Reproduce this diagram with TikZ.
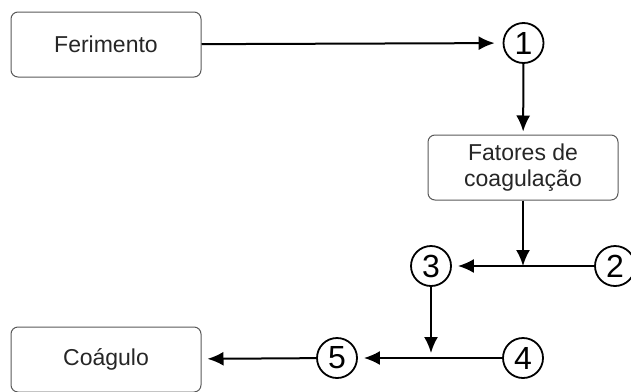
\documentclass[tikz,border=0pt]{standalone}
\usepackage{fontspec}
\setmainfont{Liberation Sans}
\usetikzlibrary{arrows.meta}
\usetikzlibrary{positioning}

\begin{document}
\begin{tikzpicture}[x=1pt,y=-1pt,->,>={Latex[length=16pt,width=14pt]},shorten >=6pt,line width=2pt,
  box node/.style={draw=black!65,line width=1pt,rounded corners=7pt,minimum width=190pt,minimum height=65pt,align=center,text=black!85,font=\fontsize{23}{26}\selectfont},
  num node/.style={circle,draw,line width=1.8pt,minimum size=40pt,inner sep=0pt,font=\fontsize{32}{32}\selectfont}]

  \useasboundingbox (0,0) rectangle (631,391);

  \node[box node] (fer) at (106,44.5) {Ferimento};
  \node[num node] (n1) at (523.5,43) {1};
  \node[box node] (fat) at (523,167.5) {Fatores de\\coagulação};
  \node[num node] (n2) at (615,266) {2};
  \node[num node] (n3) at (431,266) {3};
  \node[num node] (n4) at (523,358) {4};
  \node[num node] (n5) at (337,358) {5};
  \node[box node] (coa) at (106,359.5) {Coágulo};
  \coordinate (j1) at (fat.south |- n3);
  \coordinate (j2) at (n3 |- n4);

  \path (fer) edge [shorten >=8pt] (n1);
  \path (n1) edge [shorten >=3pt] (fat);
  \path (fat) edge [shorten >=0pt] (j1);
  \path (n2) edge (n3);
  \path (n3) edge [shorten >=5pt] (j2);
  \path (n4) edge (n5);
  \path (n5) edge (coa);
\end{tikzpicture}
\end{document}
